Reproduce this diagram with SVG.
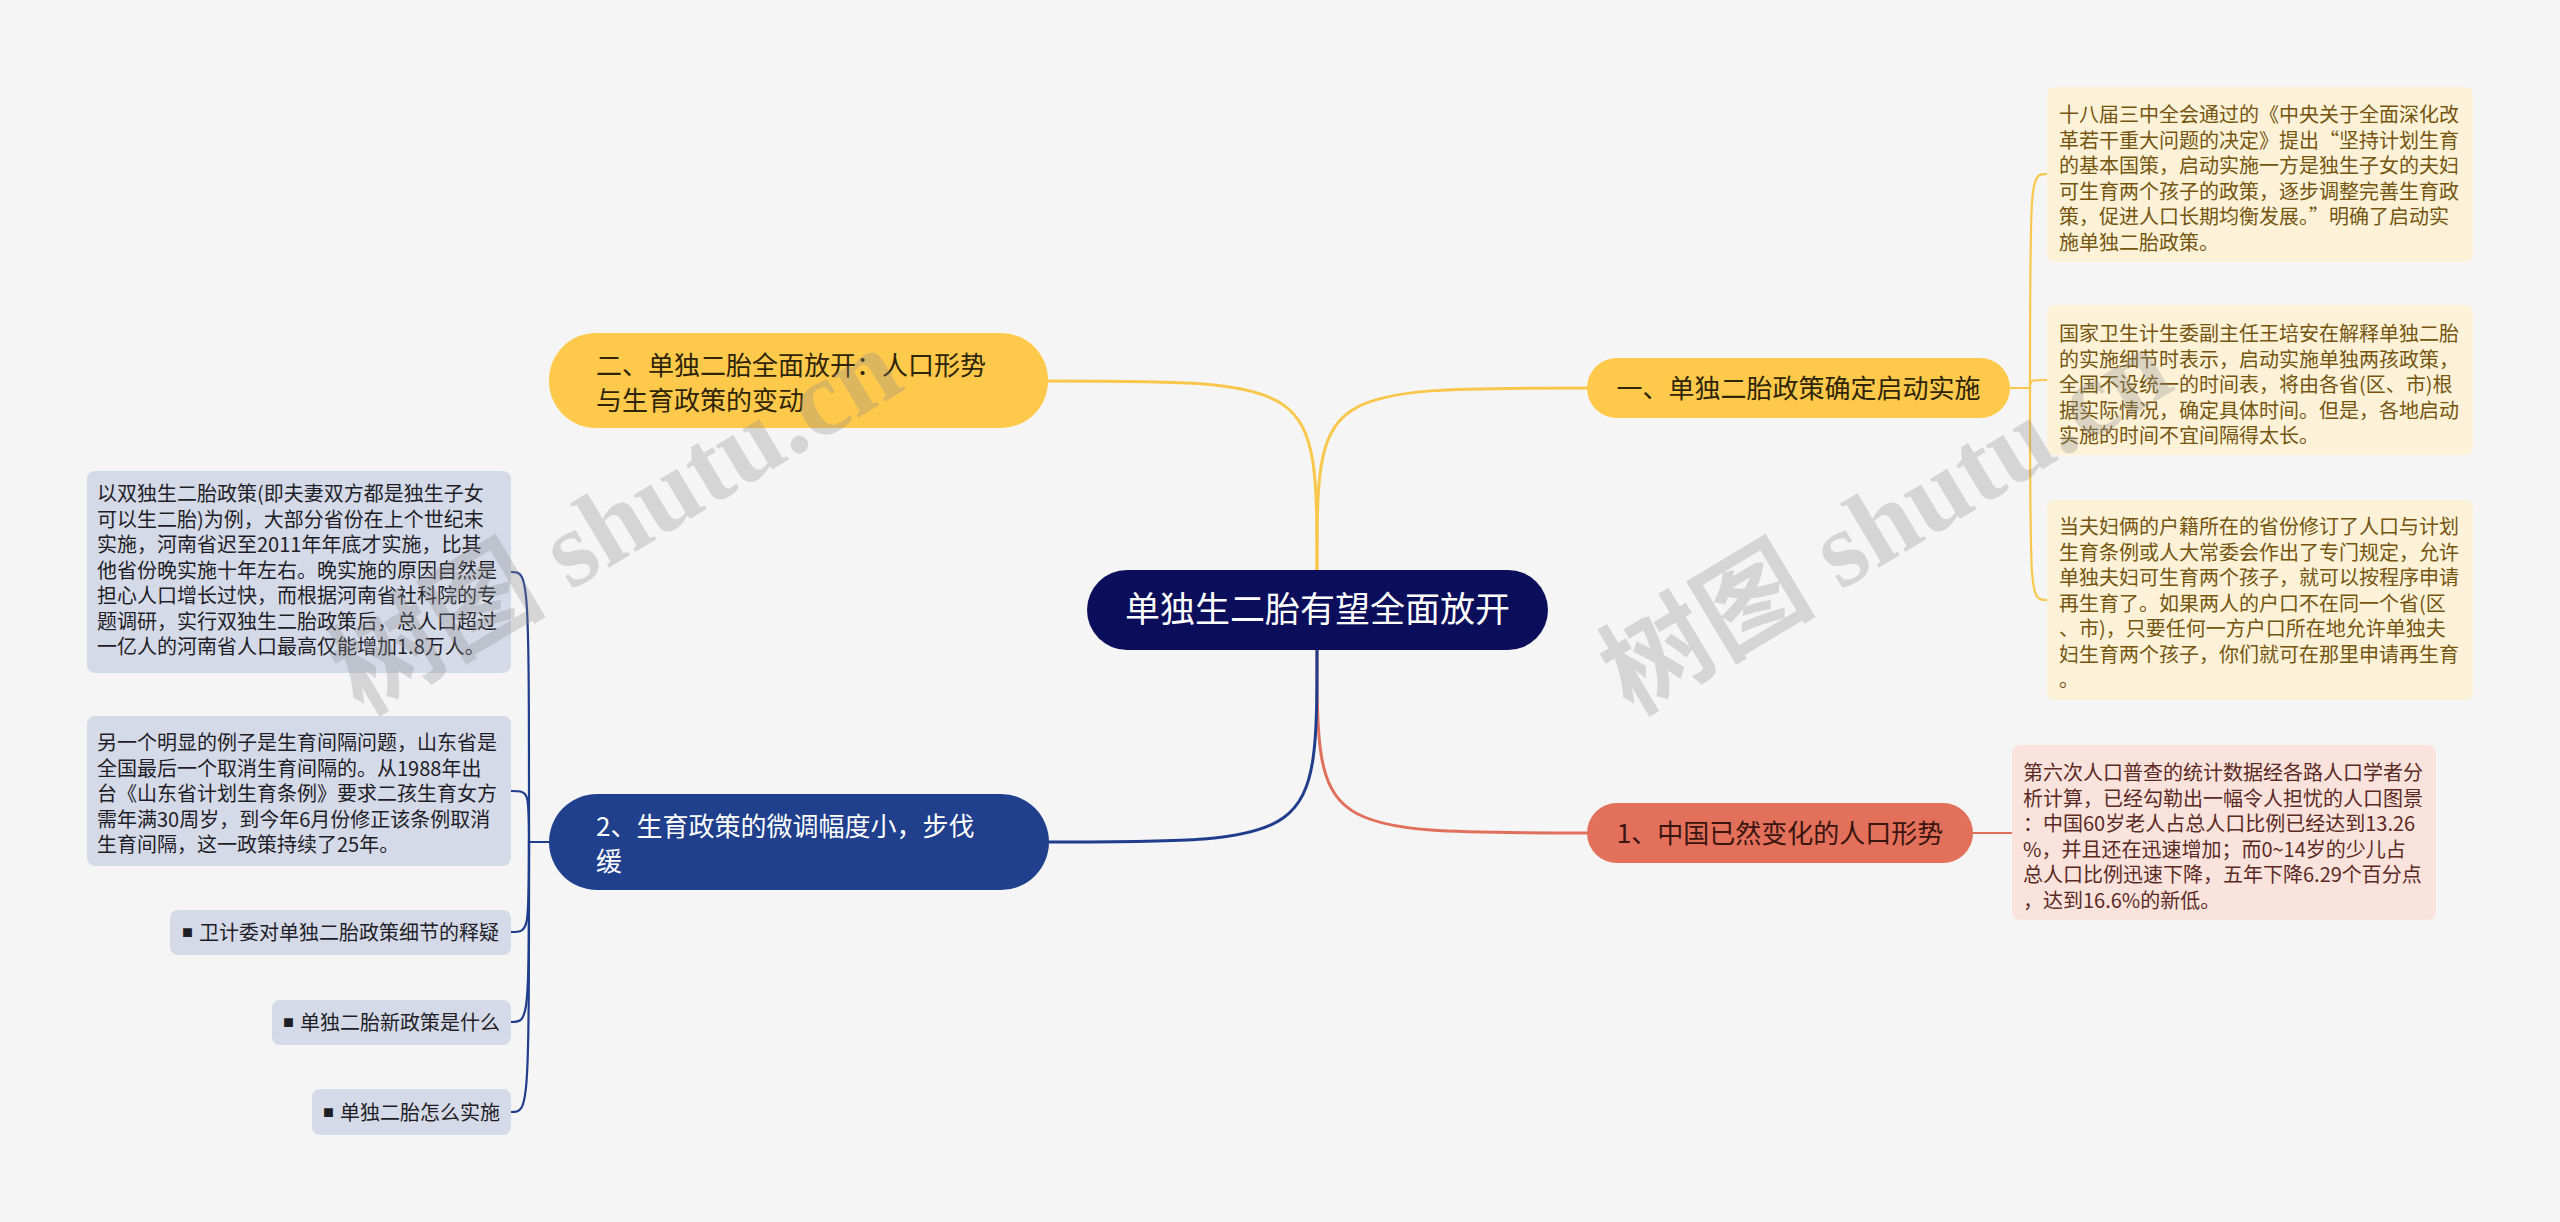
<svg xmlns="http://www.w3.org/2000/svg" width="2560" height="1222" viewBox="0 0 2560 1222">
<style>
text{font-family:"Noto Sans CJK SC","Noto Sans",sans-serif}
.t26{font-size:26px}
.t20{font-size:20px}
.conn{fill:none;stroke-linecap:round}
.yel{stroke:#f8c74c}
.cor{stroke:#e0705c}
.blu{stroke:#1f3d8c}
.main{stroke-width:3}
.sub{stroke-width:2.2}
.ybox{fill:#fdf2d8}
.ytxt{fill:#74560f}
.pbox{fill:#fbe3dd}
.ptxt{fill:#5a2a24}
.gbox{fill:#d5dae9}
.gtxt{fill:#1e1e26}
.wm{font-family:"Liberation Serif","Noto Sans CJK SC",serif;font-size:108px;font-weight:bold;fill:#8a8a8a;fill-opacity:0.3}
</style>
<rect width="2560" height="1222" fill="#f5f5f5"/>

<g id="connectors">
  <path class="conn yel main" d="M1317 572 C1317 388 1317 388 1587 388"/>
  <path class="conn yel main" d="M1317 572 C1317 381 1317 381 1048 381"/>
  <path class="conn cor main" d="M1317 648 C1317 833 1317 833 1587 833"/>
  <path class="conn blu main" d="M1317 648 C1317 842 1317 842 1049 842"/>
  <path class="conn yel sub" d="M2010 388 H2030 C2030 174 2030 174 2047 174"/>
  <path class="conn yel sub" d="M2010 388 H2030 C2030 380 2030 380 2047 380"/>
  <path class="conn yel sub" d="M2010 388 H2030 C2030 600 2030 600 2047 600"/>
  <path class="conn cor sub" d="M1973 833 H2012"/>
  <path class="conn blu sub" d="M549 842 H529 C529 572 529 572 511 572"/>
  <path class="conn blu sub" d="M549 842 H529 C529 791 529 791 511 791"/>
  <path class="conn blu sub" d="M549 842 H529 C529 932 529 932 511 932"/>
  <path class="conn blu sub" d="M549 842 H529 C529 1022 529 1022 511 1022"/>
  <path class="conn blu sub" d="M549 842 H529 C529 1112 529 1112 511 1112"/>
</g>

<g id="root">
  <rect x="1087" y="570" width="461" height="80" rx="40" fill="#0b0e5a"/>
  <text x="1317.5" y="622" font-size="35" fill="#ffffff" text-anchor="middle">单独生二胎有望全面放开</text>
</g>

<g id="b1">
  <rect x="1587" y="358" width="423" height="60" rx="30" fill="#ffc94b"/>
  <text class="t26" x="1798.5" y="398" fill="#2e2508" text-anchor="middle">一、单独二胎政策确定启动实施</text>
</g>

<g id="b2">
  <rect x="549" y="333" width="499" height="95" rx="47" fill="#ffc94b"/>
  <text class="t26" fill="#2e2508"><tspan x="596" y="375">二、单独二胎全面放开：人口形势</tspan><tspan x="596" y="410">与生育政策的变动</tspan></text>
</g>

<g id="b3">
  <rect x="1587" y="803" width="386" height="60" rx="30" fill="#e3705b"/>
  <text class="t26" x="1780" y="843" fill="#3a1510" text-anchor="middle">1、中国已然变化的人口形势</text>
</g>

<g id="b4">
  <rect x="549" y="794" width="500" height="96" rx="48" fill="#203f8d"/>
  <text class="t26" fill="#ffffff"><tspan x="596" y="836">2、生育政策的微调幅度小，步伐</tspan><tspan x="596" y="871">缓</tspan></text>
</g>

<g id="r1">
  <rect class="ybox" x="2047" y="87" width="426" height="175" rx="8"/>
  <text class="t20 ytxt"><tspan x="2059" y="122">十八届三中全会通过的《中央关于全面深化改</tspan><tspan x="2059" y="147.5">革若干重大问题的决定》提出“坚持计划生育</tspan><tspan x="2059" y="173">的基本国策，启动实施一方是独生子女的夫妇</tspan><tspan x="2059" y="198.5">可生育两个孩子的政策，逐步调整完善生育政</tspan><tspan x="2059" y="224">策，促进人口长期均衡发展。”明确了启动实</tspan><tspan x="2059" y="249.5">施单独二胎政策。</tspan></text>
</g>

<g id="r2">
  <rect class="ybox" x="2047" y="305" width="426" height="150" rx="8"/>
  <text class="t20 ytxt"><tspan x="2059" y="341">国家卫生计生委副主任王培安在解释单独二胎</tspan><tspan x="2059" y="366.5">的实施细节时表示，启动实施单独两孩政策，</tspan><tspan x="2059" y="392">全国不设统一的时间表，将由各省(区、市)根</tspan><tspan x="2059" y="417.5">据实际情况，确定具体时间。但是，各地启动</tspan><tspan x="2059" y="443">实施的时间不宜间隔得太长。</tspan></text>
</g>

<g id="r3">
  <rect class="ybox" x="2047" y="500" width="426" height="200" rx="8"/>
  <text class="t20 ytxt"><tspan x="2059" y="534">当夫妇俩的户籍所在的省份修订了人口与计划</tspan><tspan x="2059" y="559.5">生育条例或人大常委会作出了专门规定，允许</tspan><tspan x="2059" y="585">单独夫妇可生育两个孩子，就可以按程序申请</tspan><tspan x="2059" y="610.5">再生育了。如果两人的户口不在同一个省(区</tspan><tspan x="2059" y="636">、市)，只要任何一方户口所在地允许单独夫</tspan><tspan x="2059" y="661.5">妇生育两个孩子，你们就可在那里申请再生育</tspan><tspan x="2059" y="687">。</tspan></text>
</g>

<g id="r4">
  <rect class="pbox" x="2012" y="745" width="424" height="175" rx="8"/>
  <text class="t20 ptxt"><tspan x="2023" y="780">第六次人口普查的统计数据经各路人口学者分</tspan><tspan x="2023" y="805.5">析计算，已经勾勒出一幅令人担忧的人口图景</tspan><tspan x="2023" y="831">：中国60岁老人占总人口比例已经达到13.26</tspan><tspan x="2023" y="856.5">%，并且还在迅速增加；而0~14岁的少儿占</tspan><tspan x="2023" y="882">总人口比例迅速下降，五年下降6.29个百分点</tspan><tspan x="2023" y="907.5">，达到16.6%的新低。</tspan></text>
</g>

<g id="l1">
  <rect class="gbox" x="87" y="471" width="424" height="202" rx="8"/>
  <text class="t20 gtxt"><tspan x="97" y="501">以双独生二胎政策(即夫妻双方都是独生子女</tspan><tspan x="97" y="526.5">可以生二胎)为例，大部分省份在上个世纪末</tspan><tspan x="97" y="552">实施，河南省迟至2011年年底才实施，比其</tspan><tspan x="97" y="577.5">他省份晚实施十年左右。晚实施的原因自然是</tspan><tspan x="97" y="603">担心人口增长过快，而根据河南省社科院的专</tspan><tspan x="97" y="628.5">题调研，实行双独生二胎政策后，总人口超过</tspan><tspan x="97" y="654">一亿人的河南省人口最高仅能增加1.8万人。</tspan></text>
</g>

<g id="l2">
  <rect class="gbox" x="87" y="716" width="424" height="150" rx="8"/>
  <text class="t20 gtxt"><tspan x="97" y="750">另一个明显的例子是生育间隔问题，山东省是</tspan><tspan x="97" y="775.5">全国最后一个取消生育间隔的。从1988年出</tspan><tspan x="97" y="801">台《山东省计划生育条例》要求二孩生育女方</tspan><tspan x="97" y="826.5">需年满30周岁，到今年6月份修正该条例取消</tspan><tspan x="97" y="852">生育间隔，这一政策持续了25年。</tspan></text>
</g>

<g id="l3">
  <rect class="gbox" x="170" y="910" width="341" height="45" rx="8"/>
  <text class="t20 gtxt"><tspan x="182" y="937" font-size="11">■</tspan><tspan x="199" y="940">卫计委对单独二胎政策细节的释疑</tspan></text>
</g>

<g id="l4">
  <rect class="gbox" x="272" y="1000" width="239" height="45" rx="8"/>
  <text class="t20 gtxt"><tspan x="283" y="1027" font-size="11">■</tspan><tspan x="300" y="1030">单独二胎新政策是什么</tspan></text>
</g>

<g id="l5">
  <rect class="gbox" x="312" y="1089" width="199" height="46" rx="8"/>
  <text class="t20 gtxt"><tspan x="323" y="1116.5" font-size="11">■</tspan><tspan x="340" y="1119.5">单独二胎怎么实施</tspan></text>
</g>

<g id="watermark">
  <text class="wm" transform="translate(362 716) rotate(-31)">树图 shutu.cn</text>
  <text class="wm" transform="translate(1632 716) rotate(-31)">树图 shutu.cn</text>
</g>
</svg>
